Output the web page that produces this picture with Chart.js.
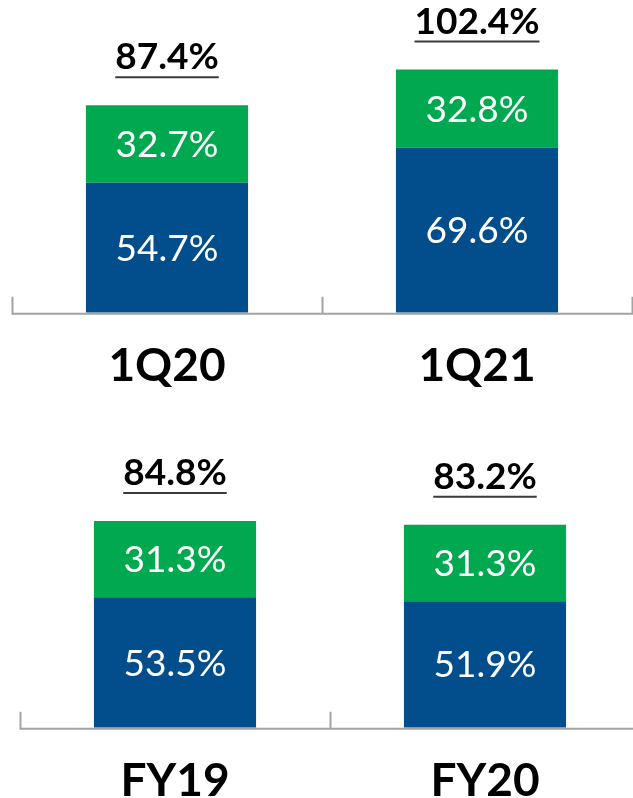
<!DOCTYPE html>
<html>
<head>
<meta charset="utf-8">
<script src="https://cdn.jsdelivr.net/npm/chart.js@4.4.1/dist/chart.umd.min.js"></script>
<style>
  html, body { margin: 0; padding: 0; background: #fff; overflow: hidden; width: 633px; height: 798px; }
  .panel { position: absolute; left: 0; }
  #quarterChart { top: 0; }
  #yearChart { top: 415px; }
</style>
</head>
<body>
<canvas id="quarterChart" class="panel" width="633" height="420"></canvas>
<canvas id="yearChart" class="panel" width="641" height="420"></canvas>
<script>
// Quarterly ratios
const quarterLabels = ['1Q20', '1Q21'];
const quarterBase = [54.7, 69.6];
const quarterAdded = [32.7, 32.8];

// Full-year ratios
const yearLabels = ['FY19', 'FY20'];
const yearBase = [53.5, 51.9];
const yearAdded = [31.3, 31.3];

const BLUE = '#024d8c';
const GREEN = '#00a84f';
const FONT = 'Lato';

// Axis line, category ticks, segment values and underlined totals
const barDecor = {
  id: 'barDecor',
  afterDatasetsDraw(chart) {
    const ctx = chart.ctx;
    const area = chart.chartArea;
    const xs = chart.scales.x;
    const n = chart.data.labels.length;
    const step = n > 1 ? xs.getPixelForValue(1) - xs.getPixelForValue(0) : area.right - area.left;
    const start = xs.getPixelForValue(0) - step / 2;

    ctx.save();
    ctx.strokeStyle = '#a3a3a3';
    ctx.lineWidth = 2;
    ctx.beginPath();
    ctx.moveTo(start, area.bottom + 1);
    ctx.lineTo(start + step * n, area.bottom + 1);
    for (let i = 0; i <= n; i++) {
      const px = Math.round(start + i * step) + 0.5;
      ctx.moveTo(px, area.bottom + 2);
      ctx.lineTo(px, area.bottom - 16);
    }
    ctx.stroke();

    // values inside each segment
    ctx.font = '37px ' + FONT;
    ctx.fillStyle = '#ffffff';
    ctx.textAlign = 'center';
    ctx.textBaseline = 'alphabetic';
    chart.data.datasets.forEach((ds, di) => {
      chart.getDatasetMeta(di).data.forEach((bar, i) => {
        const mid = (bar.y + bar.base) / 2;
        ctx.fillText(ds.data[i].toFixed(1) + '%', bar.x, mid + 13);
      });
    });

    // stack totals above the bars
    const topMeta = chart.getDatasetMeta(chart.data.datasets.length - 1);
    ctx.font = 'bold 37px ' + FONT;
    topMeta.data.forEach((bar, i) => {
      const total = chart.data.datasets.reduce((sum, ds) => sum + ds.data[i], 0);
      const text = total.toFixed(1) + '%';
      const baseY = bar.y - 36;
      ctx.fillStyle = '#000000';
      ctx.fillText(text, bar.x, baseY);
      const w = ctx.measureText(text).width;
      ctx.strokeStyle = '#3a3a3a';
      ctx.lineWidth = 2;
      ctx.beginPath();
      ctx.moveTo(bar.x - w / 2, baseY + 8);
      ctx.lineTo(bar.x + w / 2, baseY + 8);
      ctx.stroke();
    });
    ctx.restore();
  }
};

function makeChart(id, labels, base, added, yMax, pad) {
  const ctx = document.getElementById(id).getContext('2d');
  return new Chart(ctx, {
    type: 'bar',
    data: {
      labels: labels,
      datasets: [
        { label: 'base', data: base, backgroundColor: BLUE },
        { label: 'added', data: added, backgroundColor: GREEN }
      ]
    },
    options: {
      responsive: false,
      animation: false,
      categoryPercentage: 1,
      barPercentage: 0.523,
      layout: { padding: pad },
      plugins: {
        legend: { display: false },
        tooltip: { enabled: false }
      },
      scales: {
        x: {
          stacked: true,
          grid: { display: false, drawTicks: false },
          border: { display: false },
          ticks: {
            color: '#000000',
            padding: 26,
            font: { family: FONT, size: 46, weight: 'bold', lineHeight: 1.2 }
          }
        },
        y: {
          stacked: true,
          display: false,
          min: 0,
          max: yMax
        }
      }
    },
    plugins: [barDecor]
  });
}

makeChart('quarterChart', quarterLabels, quarterBase, quarterAdded, 130, { top: 4, left: 12, right: 1, bottom: 0 });
makeChart('yearChart', yearLabels, yearBase, yearAdded, 120, { top: 20, left: 20, right: 1, bottom: 0 });
</script>
</body>
</html>
